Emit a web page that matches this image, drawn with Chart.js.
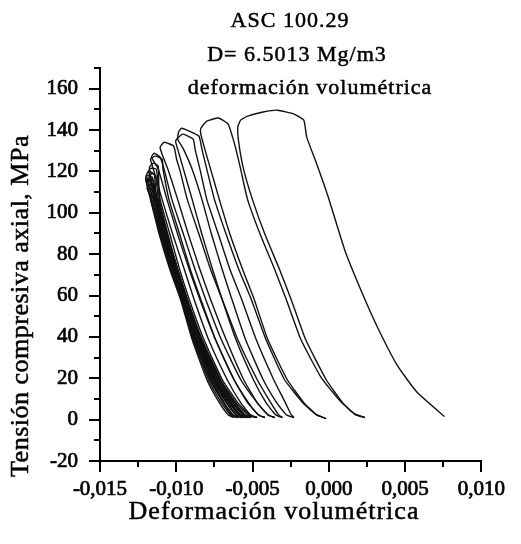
<!DOCTYPE html>
<html>
<head>
<meta charset="utf-8">
<script src="https://cdn.jsdelivr.net/npm/chart.js@4/dist/chart.umd.min.js"></script>
<style>
html,body{margin:0;padding:0;background:#fff;}
#wrap{width:521px;height:544px;position:relative;}
</style>
</head>
<body>
<div id="wrap"><canvas id="c"></canvas></div>
<script>
// ---- Data (volumetric strain, axial stress MPa) ----
const titleLines = ['ASC 100.29', 'D= 6.5013 Mg/m3', 'deformación volumétrica'];
const xAxisTitle = 'Deformación volumétrica';
const yAxisTitle = 'Tensión compresiva axial, MPa';

const xTickValues = [-0.015, -0.0125, -0.010, -0.0075, -0.005, -0.0025, 0, 0.0025, 0.005, 0.0075, 0.010];
const xTickLabels = ['-0,015', '', '-0,010', '', '-0,005', '', '0,000', '', '0,005', '', '0,010'];
const yTickValues = [-20, -10, 0, 10, 20, 30, 40, 50, 60, 70, 80, 90, 100, 110, 120, 130, 140, 150, 160, 170];
const yTickLabels = ['-20', '', '0', '', '20', '', '40', '', '60', '', '80', '', '100', '', '120', '', '140', '', '160', ''];

const cycle1 = [[0.00237,1.0],[0.00173,2.4],[0.00090,8.2],[-0.00018,19.4],[-0.00152,38.7],[-0.00247,58.1],[-0.00323,72.6],[-0.00419,89.6],[-0.00501,106.5],[-0.00559,121.1],[-0.00590,133.7],[-0.00597,141.4],[-0.00578,144.8],[-0.00533,146.7],[-0.00431,148.7],[-0.00336,149.6],[-0.00228,147.7],[-0.00164,144.8],[-0.00145,136.6],[-0.00081,124.0],[-0.00005,107.9],[0.00103,82.3],[0.00217,61.5],[0.00326,43.6],[0.00453,25.7],[0.00580,13.1],[0.00758,1.5]];
const cycle2 = [[-0.00018,0.5],[-0.00082,2.4],[-0.00164,8.2],[-0.00273,19.4],[-0.00400,38.7],[-0.00489,58.1],[-0.00565,72.6],[-0.00648,89.6],[-0.00718,106.5],[-0.00775,121.1],[-0.00813,130.8],[-0.00839,138.0],[-0.00839,140.9],[-0.00800,144.3],[-0.00724,145.8],[-0.00660,142.9],[-0.00629,136.1],[-0.00609,130.8],[-0.00578,121.1],[-0.00533,106.5],[-0.00450,89.6],[-0.00355,72.6],[-0.00279,58.1],[-0.00183,38.7],[-0.00050,20.3],[0.00078,8.7],[0.00167,2.9],[0.00237,1.0]];
const cycle3 = [[-0.00228,1.0],[-0.00279,2.4],[-0.00342,8.2],[-0.00431,19.4],[-0.00546,38.7],[-0.00635,58.1],[-0.00699,72.6],[-0.00769,89.6],[-0.00832,106.5],[-0.00896,121.1],[-0.00953,130.8],[-0.00991,135.6],[-0.00985,139.0],[-0.00966,140.9],[-0.00915,139.5],[-0.00851,137.0],[-0.00832,130.8],[-0.00800,121.1],[-0.00750,106.5],[-0.00673,89.6],[-0.00590,72.6],[-0.00508,58.1],[-0.00412,38.7],[-0.00291,19.4],[-0.00171,8.2],[-0.00082,2.4],[-0.00018,0.5]];
const cycle4 = [[-0.00304,1.0],[-0.00349,2.4],[-0.00412,8.2],[-0.00495,19.4],[-0.00609,38.7],[-0.00699,58.1],[-0.00762,72.6],[-0.00832,89.6],[-0.00896,106.5],[-0.00953,121.1],[-0.00991,130.8],[-0.01004,134.6],[-0.00978,137.0],[-0.00953,138.0],[-0.00889,135.6],[-0.00877,130.8],[-0.00845,121.1],[-0.00800,106.5],[-0.00724,89.6],[-0.00648,72.6],[-0.00571,58.1],[-0.00476,38.7],[-0.00362,19.4],[-0.00285,8.2],[-0.00247,2.4],[-0.00228,1.0]];
const cycle5 = [[-0.00355,1.0],[-0.00400,2.4],[-0.00470,8.2],[-0.00559,19.4],[-0.00673,38.7],[-0.00775,58.1],[-0.00845,72.6],[-0.00921,89.6],[-0.00991,106.5],[-0.01055,121.1],[-0.01093,128.3],[-0.01106,131.7],[-0.01080,134.1],[-0.01017,132.2],[-0.00998,125.9],[-0.00978,121.1],[-0.00928,106.5],[-0.00851,89.6],[-0.00775,72.6],[-0.00699,58.1],[-0.00597,38.7],[-0.00470,19.4],[-0.00381,8.2],[-0.00330,2.4],[-0.00304,1.0]];
const cycle6 = [[-0.00419,1.0],[-0.00463,2.4],[-0.00533,8.2],[-0.00622,19.4],[-0.00743,38.7],[-0.00845,58.1],[-0.00915,72.6],[-0.00991,89.6],[-0.01061,106.5],[-0.01118,121.1],[-0.01163,126.9],[-0.01144,128.8],[-0.01106,126.9],[-0.01080,121.1],[-0.01029,106.5],[-0.00953,89.6],[-0.00877,72.6],[-0.00807,58.1],[-0.00705,38.7],[-0.00578,19.4],[-0.00470,8.2],[-0.00400,2.4],[-0.00355,1.0]];
const cycle7 = [[-0.00470,1.0],[-0.00514,2.4],[-0.00578,8.2],[-0.00667,19.4],[-0.00788,38.7],[-0.00883,58.1],[-0.00947,72.6],[-0.01023,89.6],[-0.01093,106.5],[-0.01150,121.1],[-0.01169,125.9],[-0.01137,127.4],[-0.01093,125.9],[-0.01087,121.1],[-0.01048,106.5],[-0.00978,89.6],[-0.00908,72.6],[-0.00839,58.1],[-0.00743,38.7],[-0.00622,19.4],[-0.00527,8.2],[-0.00463,2.4],[-0.00419,1.0]];
const cycle8 = [[-0.00508,1.0],[-0.00552,2.4],[-0.00616,8.2],[-0.00711,19.4],[-0.00832,38.7],[-0.00928,58.1],[-0.00991,72.6],[-0.01061,89.6],[-0.01125,106.5],[-0.01182,120.1],[-0.01169,121.5],[-0.01131,121.1],[-0.01106,106.5],[-0.01042,89.6],[-0.00978,72.6],[-0.00915,58.1],[-0.00819,38.7],[-0.00699,19.4],[-0.00597,8.2],[-0.00521,2.4],[-0.00470,1.0]];
const cycle9 = [[-0.00546,1.0],[-0.00590,2.4],[-0.00654,8.2],[-0.00750,19.4],[-0.00864,38.7],[-0.00953,58.1],[-0.01010,72.6],[-0.01080,89.6],[-0.01144,106.5],[-0.01176,122.0],[-0.01150,124.0],[-0.01118,122.5],[-0.01112,106.5],[-0.01055,89.6],[-0.00991,72.6],[-0.00928,58.1],[-0.00839,38.7],[-0.00718,19.4],[-0.00622,8.2],[-0.00552,2.4],[-0.00508,1.0]];
const cycle10 = [[-0.00571,1.0],[-0.00609,2.4],[-0.00673,8.2],[-0.00762,19.4],[-0.00877,38.7],[-0.00959,58.1],[-0.01023,72.6],[-0.01093,89.6],[-0.01150,106.5],[-0.01195,118.2],[-0.01182,120.1],[-0.01144,118.6],[-0.01131,106.5],[-0.01068,89.6],[-0.01004,72.6],[-0.00940,58.1],[-0.00851,38.7],[-0.00737,19.4],[-0.00648,8.2],[-0.00584,2.4],[-0.00546,1.0]];
const cycle11 = [[-0.00597,1.0],[-0.00635,2.4],[-0.00692,8.2],[-0.00781,19.4],[-0.00883,38.7],[-0.00966,58.1],[-0.01036,72.6],[-0.01106,89.6],[-0.01163,106.5],[-0.01201,116.2],[-0.01195,118.2],[-0.01157,117.2],[-0.01137,106.5],[-0.01080,89.6],[-0.01017,72.6],[-0.00953,58.1],[-0.00864,38.7],[-0.00750,19.4],[-0.00667,8.2],[-0.00609,2.4],[-0.00571,1.0]];
const cycle12 = [[-0.00622,1.0],[-0.00660,2.4],[-0.00718,8.2],[-0.00800,19.4],[-0.00896,38.7],[-0.00972,58.1],[-0.01042,72.6],[-0.01112,89.6],[-0.01169,106.5],[-0.01195,114.3],[-0.01195,116.2],[-0.01163,114.8],[-0.01144,106.5],[-0.01087,89.6],[-0.01023,72.6],[-0.00966,58.1],[-0.00870,38.7],[-0.00769,19.4],[-0.00686,8.2],[-0.00635,2.4],[-0.00597,1.0]];
const cycle13 = [[-0.00559,1.0],[-0.00603,2.4],[-0.00667,8.2],[-0.00756,19.4],[-0.00870,38.7],[-0.00953,58.1],[-0.01017,72.6],[-0.01087,89.6],[-0.01137,106.5],[-0.01182,109.9],[-0.01176,111.9],[-0.01150,110.4],[-0.01074,89.6],[-0.01010,72.6],[-0.00947,58.1],[-0.00858,38.7],[-0.00743,19.4],[-0.00654,8.2],[-0.00584,2.4],[-0.00533,1.0]];
const cycle14 = [[-0.00521,1.0],[-0.00565,2.4],[-0.00629,8.2],[-0.00724,19.4],[-0.00845,38.7],[-0.00934,58.1],[-0.01004,72.6],[-0.01099,89.6],[-0.01169,106.5],[-0.01157,108.0],[-0.01131,107.0],[-0.01061,89.6],[-0.00991,72.6],[-0.00928,58.1],[-0.00832,38.7],[-0.00711,19.4],[-0.00609,8.2],[-0.00533,2.4],[-0.00482,1.0]];
const cycle15 = [[-0.00590,1.0],[-0.00628,2.4],[-0.00690,8.2],[-0.00775,19.4],[-0.00880,38.7],[-0.00960,58.1],[-0.01025,72.6],[-0.01095,89.6],[-0.01150,106.5],[-0.01188,115.0],[-0.01170,117.0],[-0.01150,115.5],[-0.01125,106.5],[-0.01066,89.6],[-0.01000,72.6],[-0.00935,58.1],[-0.00845,38.7],[-0.00730,19.4],[-0.00640,8.2],[-0.00580,2.4],[-0.00550,1.0]];
const cycle16 = [[-0.00600,1.0],[-0.00645,2.4],[-0.00705,8.2],[-0.00790,19.4],[-0.00890,38.7],[-0.00968,58.1],[-0.01032,72.6],[-0.01100,89.6],[-0.01160,106.5],[-0.01192,112.0],[-0.01172,113.5],[-0.01150,112.0],[-0.01120,100.0],[-0.01060,84.0],[-0.01005,70.0],[-0.00945,55.0],[-0.00860,37.0],[-0.00760,20.0],[-0.00670,8.5],[-0.00610,2.5],[-0.00575,1.0]];
const cycle17 = [[-0.00530,1.0],[-0.00580,2.4],[-0.00645,8.2],[-0.00740,19.4],[-0.00858,38.7],[-0.00945,58.1],[-0.01005,72.6],[-0.01075,89.6],[-0.01138,106.5],[-0.01180,117.0],[-0.01160,119.0],[-0.01135,118.0],[-0.01118,106.5],[-0.01060,89.6],[-0.00996,72.6],[-0.00932,58.1],[-0.00843,38.7],[-0.00725,19.4],[-0.00630,8.2],[-0.00560,2.4],[-0.00520,1.0]];

const cycles = [cycle1, cycle2, cycle3, cycle4, cycle5, cycle6, cycle7, cycle8, cycle9, cycle10, cycle11, cycle12, cycle13, cycle14, cycle15, cycle16, cycle17];

// ---- Styling ----
const FONT = '"Liberation Serif", "Times New Roman", serif';

const datasets = cycles.map(c => ({
  data: c.map(p => ({x: p[0], y: p[1]})),
  showLine: true,
  borderColor: '#111',
  borderWidth: 1.4,
  pointRadius: 0,
  tension: 0.15,
  fill: false
}));

const tickMarks = {
  id: 'tickMarks',
  afterDraw(chart) {
    const ctx = chart.ctx, a = chart.chartArea;
    const xs = chart.scales.x, ys = chart.scales.y;
    ctx.save();
    ctx.strokeStyle = '#000';
    ctx.lineWidth = 2;
    xs.ticks.forEach((t, i) => {
      const px = Math.round(xs.getPixelForValue(t.value));
      const len = xTickLabels[i] ? 11 : 6;
      ctx.beginPath(); ctx.moveTo(px, a.bottom); ctx.lineTo(px, a.bottom + len); ctx.stroke();
    });
    ys.ticks.forEach((t, i) => {
      const py = Math.round(ys.getPixelForValue(t.value));
      const len = yTickLabels[i] ? 11 : 6;
      ctx.beginPath(); ctx.moveTo(a.left, py); ctx.lineTo(a.left - len, py); ctx.stroke();
    });
    ctx.restore();
  }
};

const texts = {
  id: 'texts',
  afterDraw(chart) {
    const ctx = chart.ctx, a = chart.chartArea;
    ctx.save();
    ctx.fillStyle = '#000';
    ctx.strokeStyle = '#000';
    ctx.lineWidth = 0.5;
    ctx.textAlign = 'center';
    ctx.textBaseline = 'middle';
    ctx.font = '22px ' + FONT;
    ctx.letterSpacing = '1px';
    const tPos = [[290, 21], [297, 55], [310, 88]];
    titleLines.forEach((s, i) => { ctx.fillText(s, tPos[i][0], tPos[i][1]); ctx.strokeText(s, tPos[i][0], tPos[i][1]); });
    ctx.font = '26px ' + FONT;
    ctx.letterSpacing = '1px';
    ctx.fillText(xAxisTitle, a.left + 174, 512);
    ctx.strokeText(xAxisTitle, a.left + 174, 512);
    ctx.letterSpacing = '0.5px';
    ctx.translate(21, 306);
    ctx.rotate(-Math.PI / 2);
    ctx.fillText(yAxisTitle, 0, 0);
    ctx.strokeText(yAxisTitle, 0, 0);
    ctx.restore();
  }
};

new Chart(document.getElementById('c'), {
  type: 'scatter',
  data: { datasets },
  options: {
    responsive: true,
    maintainAspectRatio: false,
    animation: false,
    layout: { padding: { top: 68, right: 28, left: 0, bottom: 0 } },
    plugins: { legend: { display: false }, tooltip: { enabled: false }, title: { display: false } },
    scales: {
      x: {
        type: 'linear',
        min: -0.015, max: 0.010,
        afterBuildTicks: s => { s.ticks = xTickValues.map(v => ({value: v})); },
        afterFit: s => { s.height = 83; },
        grid: { display: false, drawTicks: false },
        border: { display: true, color: '#000', width: 2 },
        ticks: {
          autoSkip: false, maxRotation: 0, padding: 16, color: '#000',
          textStrokeColor: '#000', textStrokeWidth: 0.7,
          font: { family: FONT, size: 21 },
          callback: (v, i) => xTickLabels[i]
        }
      },
      y: {
        type: 'linear',
        min: -20, max: 170,
        afterBuildTicks: s => { s.ticks = yTickValues.map(v => ({value: v})); },
        afterFit: s => { s.width = 100; },
        grid: { display: false, drawTicks: false },
        border: { display: true, color: '#000', width: 2 },
        ticks: {
          autoSkip: false, padding: 22, color: '#000',
          textStrokeColor: '#000', textStrokeWidth: 0.7,
          font: { family: FONT, size: 21 },
          callback: (v, i) => yTickLabels[i]
        }
      }
    }
  },
  plugins: [tickMarks, texts]
});
</script>
</body>
</html>
